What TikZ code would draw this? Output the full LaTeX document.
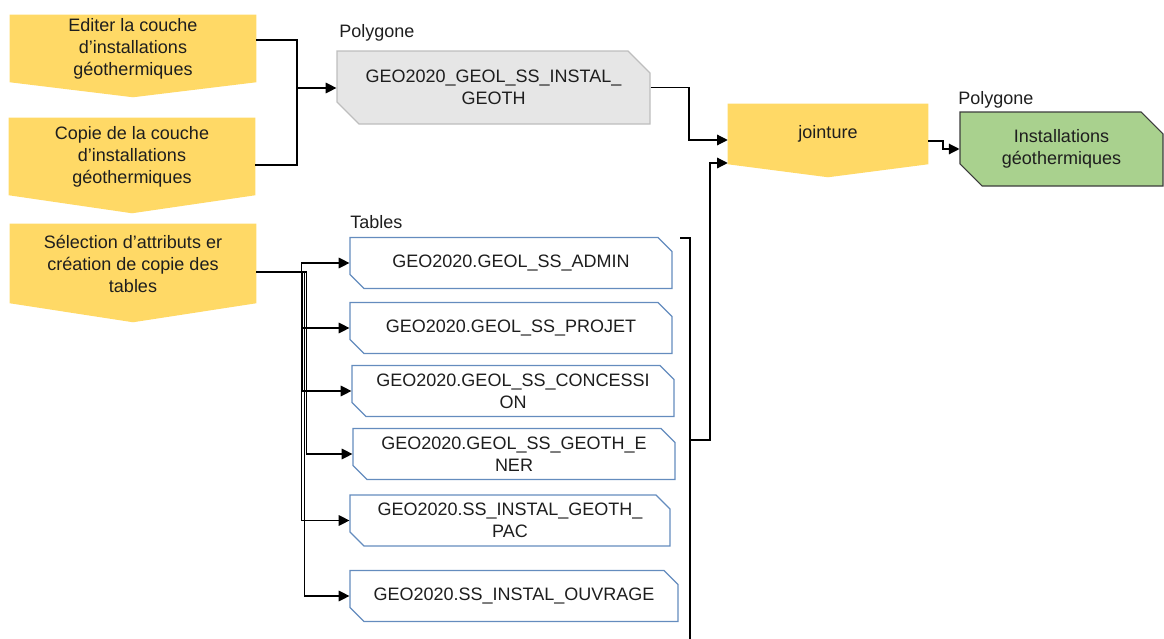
\documentclass[tikz,border=0pt]{standalone}
\usepackage{fontspec}
\setmainfont{Liberation Sans}
\usetikzlibrary{shapes.misc,arrows.meta,calc,backgrounds}
\definecolor{yel}{RGB}{255,217,102}
\definecolor{greyf}{RGB}{230,230,230}
\definecolor{greyb}{RGB}{190,190,190}
\definecolor{greenf}{RGB}{169,209,142}
\definecolor{greenb}{RGB}{60,60,60}
\definecolor{blueb}{RGB}{100,140,190}
\definecolor{txt}{RGB}{30,30,30}
\newcommand\pxu{0.75pt}
\newcommand\yshape[2]{\fill[yel] (#1.north west) -- (#1.north east) -- (#1.south east) -- ($(#1.south)+(0,#2)$) -- (#1.south west) -- cycle;}
\begin{document}
\begin{tikzpicture}[x=0.75pt,y=-0.75pt,
  every node/.style={font=\fontsize{13.5}{16.5}\selectfont, text=txt},
  ybox/.style={rectangle, inner sep=0pt, align=center, minimum width=246*\pxu},
  chbox/.style={chamfered rectangle, chamfered rectangle corners={north east,south west},
     inner sep=0pt, align=center},
  gbox/.style={chbox, chamfered rectangle xsep=11*\pxu, chamfered rectangle ysep=11*\pxu,
     fill=greyf, draw=greyb, line width=0.9pt},
  grbox/.style={chbox, chamfered rectangle xsep=11*\pxu, chamfered rectangle ysep=11*\pxu,
     fill=greenf, draw=greenb, line width=0.8pt},
  tbox/.style={chbox, chamfered rectangle xsep=6*\pxu, chamfered rectangle ysep=8*\pxu,
     fill=white, draw=blueb, line width=0.9pt, minimum height=51*\pxu},
  lbl/.style={anchor=west, inner sep=0pt},
  conn/.style={draw=black, line width=0.9pt},
  arr/.style={conn, -{Triangle[length=8pt,width=8pt]}}
]
\useasboundingbox (0,0) rectangle (1164,639);

% yellow process boxes
\node[ybox, minimum height=67*\pxu] (e1) at (133,48.5) {Editer la couche\\d'installations\\géothermiques};
\node[ybox, minimum height=77*\pxu] (e2) at (132,156.5) {Copie de la couche\\d'installations\\géothermiques};
\node[ybox, minimum height=79*\pxu] (sel) at (133,263.5) {Sélection d'attributs er\\création de copie des\\tables};
\node[ybox, minimum width=200*\pxu, minimum height=60*\pxu] (jn) at (828,134) {jointure};

\begin{pgfonlayer}{background}
\yshape{e1}{15}
\yshape{e2}{18}
\yshape{sel}{19}
\yshape{jn}{13}
\end{pgfonlayer}

% data boxes
\node[lbl] (lp1) at (339,33) {Polygone};
\node[gbox, minimum width=313*\pxu, minimum height=73*\pxu] (geo) at (493.5,87.5) {GEO2020\_GEOL\_SS\_INSTAL\_\\GEOTH};
\node[lbl] (lp2) at (958,100) {Polygone};
\node[grbox, minimum width=203*\pxu, minimum height=74*\pxu] (inst) at (1061.5,149) {Installations\\géothermiques};

\node[lbl] (ltab) at (350,222) {Tables};
\node[tbox, minimum width=322*\pxu] (tA) at (511,263) {GEO2020.GEOL\_SS\_ADMIN};
\node[tbox, minimum width=322*\pxu] (tB) at (511,328) {GEO2020.GEOL\_SS\_PROJET};
\node[tbox, minimum width=322*\pxu] (tC) at (513,391) {GEO2020.GEOL\_SS\_CONCESSI\\ON};
\node[tbox, minimum width=322*\pxu] (tD) at (514,454) {GEO2020.GEOL\_SS\_GEOTH\_E\\NER};
\node[tbox, minimum width=320*\pxu] (tE) at (510,520.5) {GEO2020.SS\_INSTAL\_GEOTH\_\\PAC};
\node[tbox, minimum width=328*\pxu] (tF) at (514,596) {GEO2020.SS\_INSTAL\_OUVRAGE};

% connectors to grey box
\coordinate (j1) at (297,88);
\draw[conn] ($(e1.east)+(0,-8.5)$) -| (j1);
\draw[conn] ($(e2.east)+(0,8.5)$) -| (j1);
\draw[arr] (j1) -- (j1 -| geo.west);

% grey -> jointure
\coordinate (j2) at (689,140);
\draw[arr] (geo.east) -| (j2) -- (j2 -| jn.west);

% bracket around tables and link to jointure
\coordinate (bt) at (680,238);
\coordinate (bb) at (690,639);
\coordinate (bm) at (690,440);
\draw[conn, line width=0.8pt] (bt) -| (bb);
\draw[arr] (bm) -- ++(20,0) |- ($(jn.west)+(0,29)$);

% jointure -> result
\coordinate (j3) at (943,149);
\draw[arr] ($(jn.east)+(0,7)$) -| (j3) -- (j3 -| inst.west);

% selection -> tables
\coordinate (s) at ($(sel.east)+(0,8.5)$);
\draw[arr] (s) -| ($(tA.west)+(-48,0)$) -- (tA.west);
\draw[arr] (s) -| ($(tB.west)+(-47,0)$) -- (tB.west);
\draw[arr] (s) -| ($(tC.west)+(-49,0)$) -- (tC.west);
\draw[arr] (s) -| ($(tD.west)+(-46,0)$) -- (tD.west);
\draw[arr] (s) -| ($(tE.west)+(-48,0)$) -- (tE.west);
\draw[arr] (s) -| ($(tF.west)+(-45,0)$) -- (tF.west);
\end{tikzpicture}
\end{document}
